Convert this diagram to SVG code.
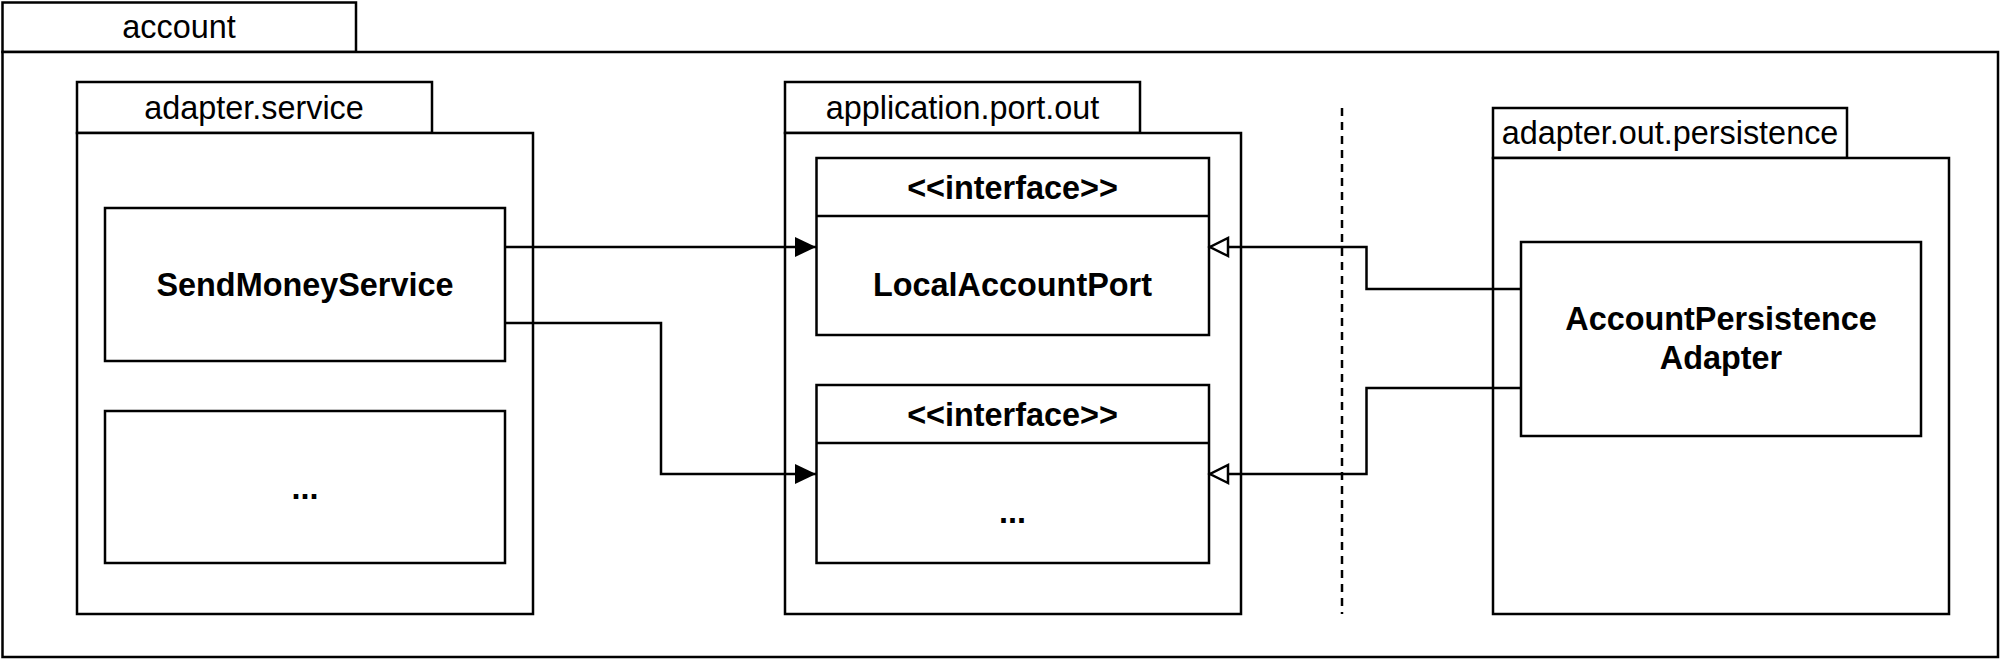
<svg xmlns="http://www.w3.org/2000/svg" width="2000" height="660" viewBox="0 0 2000 660">
<style>
.box{fill:#fff;stroke:#000;stroke-width:2.5}
.lbl{font-family:"Liberation Sans",Arial,Helvetica,sans-serif;font-size:32.4px;fill:#000;text-anchor:middle}
.b{font-weight:bold}
.edge{fill:none;stroke:#000;stroke-width:2.5}
</style>
<defs>
<marker id="block" markerUnits="userSpaceOnUse" markerWidth="24" markerHeight="22" refX="21" refY="10" orient="auto" viewBox="0 0 24 22">
<path d="M0,0 L21,10 L0,20 Z" fill="#000" stroke="none"/>
</marker>
<marker id="hollow" markerUnits="userSpaceOnUse" markerWidth="24" markerHeight="24" refX="20" refY="11" orient="auto" viewBox="0 0 24 24">
<path d="M2,2 L20,11 L2,20 Z" fill="#fff" stroke="#000" stroke-width="2.5"/>
</marker>
</defs>
<rect width="2000" height="660" fill="#fff"/>
<g id="pkg-account">
<rect class="box" x="2.5" y="2.5" width="353.5" height="49.5"/>
<rect class="box" x="2.5" y="52" width="1995.5" height="605"/>
<text class="lbl" x="179" y="38">account</text>
</g>
<g id="pkg-adapter-service">
<rect class="box" x="77" y="82" width="355" height="51"/>
<rect class="box" x="77" y="133" width="456" height="481"/>
<text class="lbl" x="254" y="118.5">adapter.service</text>
</g>
<g id="pkg-application-port-out">
<rect class="box" x="785" y="82" width="355" height="51"/>
<rect class="box" x="785" y="133" width="456" height="481"/>
<text class="lbl" x="962.5" y="118.5">application.port.out</text>
</g>
<g id="pkg-adapter-out-persistence">
<rect class="box" x="1493" y="108" width="354" height="50"/>
<rect class="box" x="1493" y="158" width="456" height="456"/>
<text class="lbl" x="1670" y="144">adapter.out.persistence</text>
</g>
<g id="divider">
<line x1="1342" y1="108" x2="1342" y2="614" stroke="#000" stroke-width="2.5" stroke-dasharray="8 6"/>
</g>
<g id="SendMoneyService">
<rect class="box" x="105" y="208" width="400" height="153"/>
<text class="lbl b" x="305" y="296">SendMoneyService</text>
</g>
<g id="service-more">
<rect class="box" x="105" y="411" width="400" height="152"/>
<text class="lbl b" x="305" y="499">...</text>
</g>
<g id="LocalAccountPort">
<rect class="box" x="816.5" y="158" width="392.5" height="177"/>
<line x1="816.5" y1="216" x2="1209" y2="216" stroke="#000" stroke-width="2.5"/>
<text class="lbl b" x="1012.5" y="199">&lt;&lt;interface&gt;&gt;</text>
<text class="lbl b" x="1012.5" y="296">LocalAccountPort</text>
</g>
<g id="port-more">
<rect class="box" x="816.5" y="385" width="392.5" height="178"/>
<line x1="816.5" y1="443" x2="1209" y2="443" stroke="#000" stroke-width="2.5"/>
<text class="lbl b" x="1012.5" y="426">&lt;&lt;interface&gt;&gt;</text>
<text class="lbl b" x="1012.5" y="523">...</text>
</g>
<g id="AccountPersistenceAdapter">
<rect class="box" x="1521" y="242" width="400" height="194"/>
<text class="lbl b" x="1721" y="330">AccountPersistence</text>
<text class="lbl b" x="1721" y="369">Adapter</text>
</g>
<g id="connectors">
<path class="edge" d="M505,247 L816,247" marker-end="url(#block)"/>
<path class="edge" d="M505,323 L661,323 L661,474 L816,474" marker-end="url(#block)"/>
<path class="edge" d="M1521,289 L1366.5,289 L1366.5,247 L1210,247" marker-end="url(#hollow)"/>
<path class="edge" d="M1521,388 L1366.5,388 L1366.5,474 L1210,474" marker-end="url(#hollow)"/>
</g>
</svg>
